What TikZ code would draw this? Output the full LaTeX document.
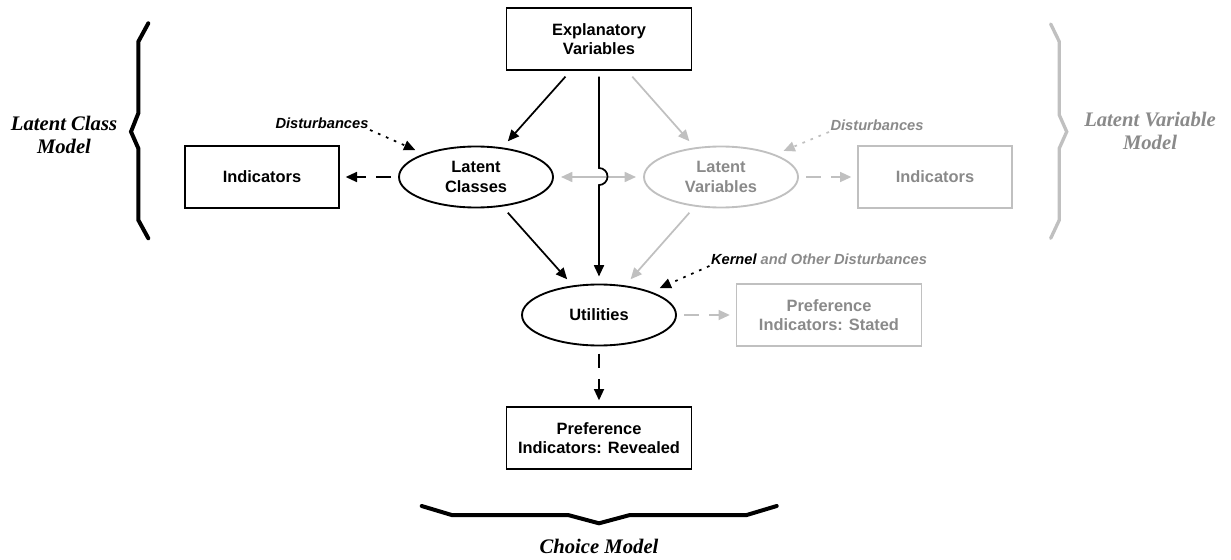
\documentclass[tikz,border=0pt]{standalone}
\usepackage{fontspec}
\setmainfont{Liberation Serif}
\setsansfont{Liberation Sans}
\usetikzlibrary{shapes.geometric, arrows.meta, positioning}
\definecolor{fadeline}{HTML}{C0C0C0}
\definecolor{fadetext}{HTML}{8A8A8A}
\tikzset{
  varbox/.style={rectangle, draw=black, line width=1.4pt, minimum width=138.75pt, minimum height=46.5pt, align=center, inner sep=2pt, outer sep=5pt, font=\sffamily\bfseries\fontsize{12.3}{14.5}\selectfont},
  smallbox/.style={varbox, minimum width=115.5pt},
  latent/.style={ellipse, draw=black, line width=1.4pt, minimum width=115.5pt, minimum height=45.75pt, align=center, inner sep=1pt, outer sep=6pt, font=\sffamily\bfseries\fontsize{12.3}{14.5}\selectfont},
  faded/.style={draw=fadeline, text=fadetext},
  arrowline/.style={-{Triangle[length=8.5pt, width=7.5pt]}, line width=1.3pt},
  fadearrow/.style={arrowline, draw=fadeline},
  fadedouble/.style={{Triangle[length=8.5pt, width=7.5pt]}-{Triangle[length=8.5pt, width=7.5pt]}, line width=1.3pt, draw=fadeline},
  dasharrow/.style={arrowline, dash pattern=on 11pt off 8pt},
  dotarrow/.style={arrowline, dash pattern=on 2pt off 4.5pt},
  distlabel/.style={inner sep=1pt, font=\sffamily\bfseries\itshape\fontsize{11}{13}\selectfont},
  modellabel/.style={align=center, font=\rmfamily\bfseries\itshape\fontsize{15.5}{17.5}\selectfont},
  bracket/.style={line width=3pt, line cap=round},
}
\begin{document}
\begin{tikzpicture}[x=0.75pt, y=-0.75pt, on grid]
\useasboundingbox (0,0) rectangle (1231,560);

\node[varbox] (explvars) at (599,39) {Explanatory\\Variables};
\node[latent, below left=103.5pt and 92.25pt of explvars] (latclass) {Latent\\Classes};
\node[latent, faded, below right=103.5pt and 91.5pt of explvars] (latvar) {Latent\\Variables};
\node[smallbox, left=160.5pt of latclass] (lcind) {Indicators};
\node[smallbox, faded, right=160.5pt of latvar] (lvind) {Indicators};
\node[latent, below=207pt of explvars] (util) {Utilities};
\node[varbox, faded, right=172.5pt of util] (stated) {Preference\\Indicators: Stated};
\node[varbox, below=92.25pt of util] (revealed) {Preference\\Indicators: Revealed};

\node[distlabel] (distlc) at (322,123) {Disturbances};
\node[distlabel, text=fadetext] (distlv) at (877,125) {Disturbances};
\node[distlabel, text=fadetext] (kernel) at (819,259) {\textcolor{black}{Kernel} and Other Disturbances};

\node[modellabel] (lcmodel) at (64,135) {Latent Class\\Model};
\node[modellabel, text=fadetext] (lvmodel) at (1150,131) {Latent Variable\\Model};
\node[modellabel] (choicemodel) at (599,546) {Choice Model};

% braces
\draw[bracket] (148.3,23.3) -- (138.3,41.7) -- (138.3,113.3) -- (131,131.7) -- (138.3,148.3) -- (138.3,220) -- (148.3,238.3);
\draw[bracket, fadeline, line width=2.5pt] (1050.7,24) -- (1059.3,41.7) -- (1059.3,115) -- (1066.7,131.7) -- (1059.3,148.3) -- (1059.3,220) -- (1050.7,238.3);
\draw[bracket] (421.7,506) -- (451.7,515) -- (568,515) -- (599,523.3) -- (630,515) -- (746.7,515) -- (776.7,506);

\draw[fadedouble] (latclass) -- (latvar);
\draw[arrowline] (explvars) -- (explvars |- 0,168) arc[start angle=90, end angle=-90, radius=6.4pt] -- (util);
\draw[arrowline] (explvars) -- (latclass);
\draw[fadearrow] (explvars) -- (latvar);
\draw[arrowline] (latclass) -- (util);
\draw[fadearrow] (latvar) -- (util);
\draw[dasharrow] (latclass) -- (lcind);
\draw[dasharrow, fadeline] (latvar) -- (lvind);
\draw[dasharrow, fadeline] (util) -- (stated);
\draw[dasharrow] (util) -- (revealed);
\draw[dotarrow] (distlc.south east) -- (latclass);
\draw[dotarrow, fadeline] (distlv.south west) -- (latvar);
\draw[dotarrow] (kernel.south west) -- (util);
\end{tikzpicture}
\end{document}
